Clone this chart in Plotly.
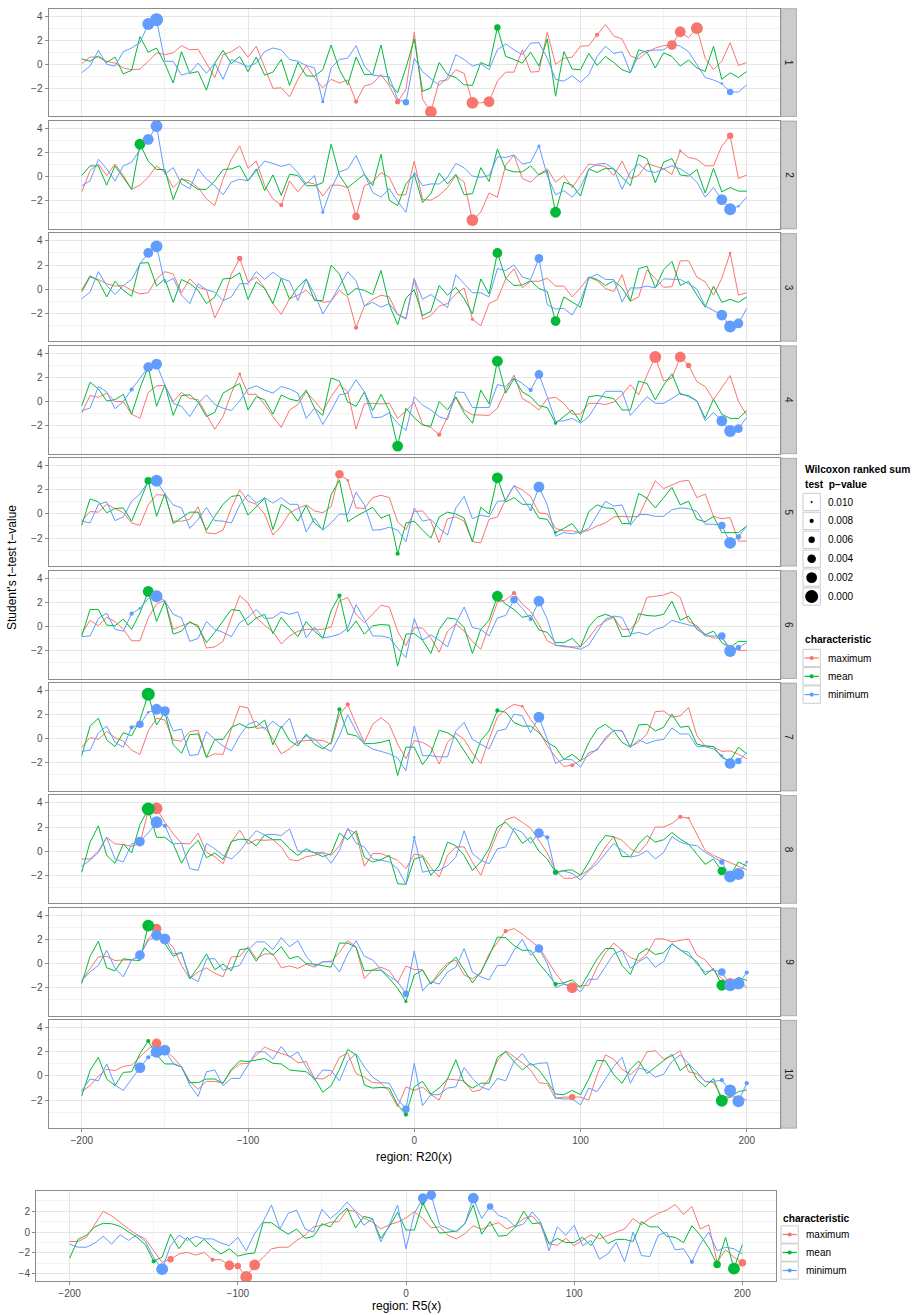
import plotly.graph_objects as go

x_region = list(range(-200, 201, 5))

# ---------------- R20 panels: maximum / mean / minimum t-values ----------------
max_1 = [0.05,0.6,0.6,0.25,0.1,-0.3,-0.45,-0.4,0.25,0.95, 0.8,0.95,1.55,1.2,1.25,0.1,-1.1,0.8,1.05,1.5, 0.6,1.5,-0.3,-2.0,-1.95,-2.7,-1.25,-0.1,-1.1,-1.95, -1.25,-1.55,-1.3,-3.1,-1.8,-1.6,-0.85,-1.8,-3.1,-2.1, 2.65,-2.9,-3.95,-1.4,-1.3,-0.45,-0.75,-3.2,-3.2,-3.1, -1.4,-0.65,-0.65,1.2,-0.65,-0.6,2.65,0.0,0.5,0.6, 1.5,1.55,2.45,3.3,2.35,2.1,0.7,0.45,1.0,1.35, 1.55,1.6,2.7,2.2,3.0,0.5,-0.45,0.25,1.8,-0.1,0.15]
mean_1 = [0.45,0.25,0.7,0.15,0.6,-0.8,-0.5,2.3,1.0,1.35, 0.05,-1.55,1.05,-0.75,-0.6,-2.15,0.1,1.15,0.05,0.65, -0.6,0.6,-0.9,-0.65,0.4,-1.75,0.15,-0.95,-1.0,-0.45, 1.6,-0.45,-1.7,0.6,-0.85,-0.85,1.6,-1.6,-2.35,-0.3, 2.1,-2.25,-1.95,0.15,-0.85,-1.1,-1.7,-1.75,0.15,-0.15, 3.05,0.65,0.4,0.1,1.0,-0.15,2.1,-2.65,1.05,-0.4, -0.45,0.9,-0.1,0.65,0.15,-0.45,-0.7,1.2,1.0,-0.3, 0.95,0.65,-0.15,0.35,-0.3,-0.6,1.5,-1.25,-0.7,-1.1,-0.6]
min_1 = [-0.7,-0.15,1.15,0.0,-0.15,1.05,1.35,1.8,3.35,3.7, 0.25,0.25,-0.9,-0.7,0.1,-0.75,0.1,-1.25,0.4,0.1, -0.2,0.1,1.05,1.35,1.2,0.4,0.25,-0.1,-0.3,-3.1, -0.3,0.4,0.5,1.55,-0.15,-0.9,-0.95,-1.05,-2.9,-3.15, 0.5,-0.6,-1.2,-1.75,-1.1,0.8,0.4,-0.15,0.05,-0.45, 1.2,1.7,1.2,0.8,1.75,1.8,0.5,-1.25,-1.4,-0.95, -1.5,-0.85,0.65,1.5,0.9,1.05,-0.7,0.8,1.15,1.15, 1.2,1.75,1.5,1.05,0.0,-1.1,-1.3,-1.6,-2.3,-2.3,-1.7]
sig_1 = [("minimum",-160,0.001),("minimum",-155,0.0),("minimum",-55,0.009),("minimum",-5,0.006),("minimum",185,0.0095),("minimum",190,0.006),
         ("maximum",-35,0.008),("maximum",-10,0.007),("maximum",10,0.001),("maximum",35,0.001),("maximum",45,0.002),("maximum",110,0.008),
         ("maximum",155,0.003),("maximum",160,0.002),("maximum",170,0.001),("mean",50,0.006)]

max_2 = [-1.25,0.5,1.05,0.1,1.05,0.1,-1.05,-0.7,-0.05,0.9, 0.35,-0.9,-0.2,-0.35,-0.9,-1.85,-2.4,-0.2,1.45,2.55, 0.7,1.3,-0.75,-1.85,-2.35,-0.35,-1.25,-0.45,-0.6,-1.6, -0.7,-0.7,-0.9,-3.3,-0.75,-0.45,0.35,-0.05,-1.5,-1.5, 1.3,-1.9,-1.95,-1.55,-0.9,0.1,-0.45,-3.6,-2.95,-1.35, -1.7,0.95,1.8,-0.15,-0.45,0.2,0.65,-0.45,0.1,-0.9, 0.1,1.05,0.95,0.85,0.1,1.3,-0.15,0.1,1.1,0.9, 0.65,0.2,2.15,1.6,1.45,0.9,0.9,2.55,3.4,-0.15,0.15]
mean_2 = [0.1,0.9,0.9,-0.7,0.9,-0.05,-1.05, 2.7,1.3,0.6,0.6,-1.9,-0.15,-0.6,-1.05,-1.05,-0.35,0.6,0.65,0.9,-0.35,0.65,-1.15,0.15,-1.55,0.2,0.1,-0.75,-0.75,-0.5, 2.7,0.1,-0.9,-0.35,0.2,-0.75,1.85,-1.95,-2.4,-0.6, 0.2,-2.15,-1.4,0.3,-0.6,0.2,-1.5,-1.4,0.75,-0.4, 2.3,0.6,0.4,0.4,0.9,0.15,0.5,-2.95,-0.45,-0.7, -1.6,0.65,0.35,0.7,0.65,-0.05,-0.75,1.8,1.5,-0.5, 1.2,1.5,0.15,0.05,0.6,-1.35,0.7,-1.25,-0.9,-1.2,-1.2]
min_2 = [-0.75,-0.35,1.45,0.65,-0.35,0.9,1.2,2.25,3.1,4.2, 0.2,0.75,-0.6,-1.0,0.65,-0.2,-0.75,-1.5,-0.45,-0.2, -0.35,0.5,1.3,1.1,0.85,1.05,0.35,-0.6,0.1,-2.95, -1.0,0.4,0.65,1.75,0.2,-1.3,-1.7,-1.0,-2.05,-2.95, 0.4,-0.75,-0.6,-0.6,-0.05,1.1,0.75,0.05,-0.05,0.1, 1.65,1.6,1.8,1.05,1.2,2.55,0.1,-1.5,-1.15,-1.7, -0.9,0.65,1.05,1.1,0.65,-1.05,0.4,1.05,0.5,0.35, 0.65,0.9,0.65,0.2,-0.45,-1.7,-0.9,-1.9,-2.7,-2.45,-1.7]
sig_2 = [("mean",-165,0.002),("minimum",-160,0.002),("minimum",-155,0.001),("minimum",-55,0.009),("minimum",75,0.009),("minimum",185,0.002),
         ("minimum",190,0.001),("minimum",195,0.0095),("maximum",-80,0.008),("maximum",-35,0.005),("maximum",35,0.001),("maximum",160,0.0095),
         ("maximum",190,0.006),("mean",85,0.002)]

max_3 = [-0.25,1.0,0.8,0.45,0.25,0.3,-0.1,-0.4,-0.3,0.85, 1.45,1.25,-0.3,0.85,0.15,-0.05,-2.4,-1.0,1.25,2.55, 0.6,1.0,0.1,-1.2,-2.1,-0.8,-0.5,-0.1,-0.8,-1.1, -1.0,-0.1,-0.65,-3.2,-1.4,-0.85,-0.5,-0.65,-2.1,-2.4, 0.9,-2.5,-2.2,-1.4,-1.2,-0.4,0.1,-2.5,-3.05,-1.2, -0.85,0.85,1.7,0.1,0.65,0.65,0.9,0.25,0.25,-0.65, 0.1,1.0,0.7,0.05,-0.2,1.2,-1.0,-0.65,1.6,0.85, 0.15,0.2,2.35,2.35,1.0,0.6,-0.5,0.9,3.0,-0.5,-0.3]
mean_3 = [-0.1,1.1,0.7,-0.65,0.65,-0.1,-0.6,2.15,2.2,0.25, 0.85,-1.1,0.8,0.45,-0.1,-1.2,-0.65,0.85,0.9,1.35, -0.85,0.6,0.05,-1.2,0.9,-0.85,0.15,0.85,-0.95,-0.95, 2.0,1.25,-0.5,0.05,-0.1,-0.45,1.55,-1.3,-2.95,-0.75, -0.05,-2.2,-1.85,0.3,-0.5,0.15,-0.8,-2.05,0.85,-0.4, 3.0,0.9,0.3,0.35,0.7,0.05,-0.2,-2.65,-0.65,-1.05, -1.5,1.0,0.8,0.3,0.7,0.1,-1.0,1.7,1.9,0.1, 1.6,2.3,0.3,0.65,-0.5,-1.5,0.25,-1.1,-0.85,-1.1,-0.65]
min_3 = [-0.8,-0.25,1.45,0.3,-0.45,0.3,0.8,2.1,3.0,3.55, 0.5,0.9,-0.5,-1.2,0.45,-0.05,-0.25,-0.95,-0.65,0.45, 0.45,1.45,0.8,1.4,0.9,0.65,-0.95,0.85,-0.4,-2.05, -0.95,0.3,1.45,0.7,-1.4,-1.1,-1.5,-1.2,-2.1,-2.5, 0.85,-0.85,-0.45,-1.0,-1.55,1.2,0.45,-0.3,-0.3,-0.65, 1.7,1.55,2.0,1.0,0.8,2.55,-1.3,-1.65,-1.6,-2.15, -0.95,0.9,1.25,0.8,0.8,-1.05,0.1,0.1,0.25,0.1, 0.85,0.85,0.8,0.45,0.0,-1.4,-1.75,-2.15,-3.1,-2.85,-1.6]
sig_3 = [("minimum",-160,0.003),("minimum",-155,0.001),("minimum",75,0.004),("minimum",185,0.002),("minimum",190,0.001),("minimum",195,0.003),
         ("maximum",-105,0.007),("maximum",-35,0.008),("maximum",35,0.009),("maximum",190,0.0095),("mean",50,0.003),("mean",85,0.003)]

max_4 = [-0.95,0.5,0.35,0.7,0.0,0.0,-1.05,-1.4,0.75,1.3, 1.35,0.0,0.75,0.25,0.15,-1.05,-2.3,-1.25,0.7,2.3, 0.6,0.6,-0.25,-1.25,-2.15,-0.7,-0.25,0.8,0.05,-0.8, 0.4,1.4,0.8,-2.3,-0.2,-0.15,-0.2,-0.15,-1.4,-0.8, -0.05,-1.9,-2.15,-2.75,-1.25,0.4,-0.7,-1.1,-1.1,-1.15, -0.55,0.95,2.2,0.25,-0.15,-0.7,0.25,0.35,-0.15,-1.05, -1.05,-0.15,-0.15,-0.25,-0.05,0.55,1.4,0.55,2.2,3.7, 1.7,1.95,3.7,3.0,1.65,1.25,0.15,1.1,2.15,0.0,-1.15]
mean_4 = [-0.35,1.6,1.05,0.05,0.15,0.6,-1.05,1.1,2.9,-0.4, 1.4,-1.15,0.5,0.55,-0.05,-1.25,-0.9,0.7,1.1,1.5, -0.7,0.4,0.15,-1.05,0.55,0.2,0.05,0.95,-0.55,-1.15, 1.95,1.7,-0.05,-0.4,0.8,-0.75,0.6,-0.75,-3.7,-0.55, -1.35,-1.95,-2.05,0.0,-0.7,0.35,-0.95,-1.8,0.95,-0.2, 3.35,0.7,1.9,0.8,0.4,-0.35,-0.5,-1.8,-1.25,-0.7, -1.7,0.4,0.5,0.35,0.25,-0.7,-0.7,1.7,1.5,0.15, 1.35,2.3,0.6,0.5,0.05,-1.4,0.2,-1.05,-1.4,-1.4,-0.75]
min_4 = [-0.75,-0.55,1.25,0.8,-0.6,0.0,1.0,1.9,2.85,3.1, 1.35,-0.15,-0.4,-1.25,-0.15,0.55,-0.25,-0.55,-0.75,0.05, 1.05,1.3,0.95,0.7,1.25,1.05,0.7,-1.4,-0.55,-1.9, -0.75,0.55,0.7,1.8,0.8,-1.35,-1.3,-0.95,-1.8,-2.4, 0.4,-0.3,-0.7,-1.25,-1.5,0.8,0.75,-0.5,-0.5,-0.5, 1.4,1.25,1.95,1.5,0.95,2.25,0.4,-1.65,-1.6,-1.4, -1.8,-1.25,-0.15,0.85,0.85,0.85,-1.15,-0.4,0.4,-0.15, -0.15,0.25,0.7,0.4,0.05,-1.6,-0.9,-1.6,-2.45,-2.25,-1.3]
sig_4 = [("minimum",-170,0.008),("minimum",-160,0.003),("minimum",-155,0.002),("minimum",70,0.008),("minimum",75,0.004),("minimum",185,0.002),
         ("minimum",190,0.001),("minimum",195,0.004),("maximum",-105,0.0095),("maximum",15,0.008),("maximum",145,0.001),("maximum",160,0.002),
         ("maximum",165,0.007),("mean",-10,0.002),("mean",50,0.002),("mean",85,0.009)]

max_5 = [-0.6,0.2,0.15,0.8,0.45,0.1,-0.75,-0.95,0.75,1.6, 1.55,-0.6,-0.6,-0.45,0.6,-1.55,-1.65,-1.35,0.5,2.0, 1.05,0.8,0.0,-1.75,-1.0,0.1,0.45,0.75,0.25,0.1, 0.6,3.3,2.8,0.5,0.45,1.35,1.55,1.35,-0.65,-1.3, 0.2,0.25,-0.6,-2.4,-0.4,-0.25,-0.6,-2.3,-2.4,-0.45, -0.25,1.2,2.35,2.0,1.45,0.1,0.0,-1.2,-1.4,-1.4, -1.55,-1.35,-1.0,-0.75,-0.25,-0.2,-0.25,-0.2,1.3,2.75, 2.1,2.4,2.7,2.8,1.35,1.65,-0.2,-0.4,-0.3,-2.25,-2.25]
mean_5 = [-0.95,1.25,1.0,0.1,0.45,0.5,-0.6,1.15,2.75,-0.2, 1.7,-0.8,-0.35,0.15,0.15,-1.35,-0.2,0.8,1.45,1.55, -0.1,0.6,1.3,-1.3,0.8,0.35,-0.6,0.7,-0.75,-1.3, 1.6,2.8,-0.65,-0.2,0.15,0.55,-0.35,-0.05,-3.3,-0.75, -0.6,-1.35,-2.0,-0.25,0.15,0.0,-0.35,-2.3,0.55,0.0, 3.0,1.0,1.35,0.8,0.8,-0.35,-0.45,-1.55,-1.2,-0.8, -1.7,0.2,0.75,0.5,0.45,-0.8,-0.8,1.7,1.3,0.5, 1.35,2.2,0.75,1.05,-0.45,-0.65,-0.2,-1.55,-1.55,-1.55,-1.0]
min_5 = [-0.6,-0.75,0.8,1.0,-0.55,-0.25,1.05,1.65,2.7,2.75, 1.65,0.75,0.5,-1.2,-0.45,0.55,-0.55,-0.6,-0.75,0.75, 1.6,0.9,1.35,0.9,1.35,0.8,0.8,-1.5,-0.35,-1.35, -0.75,0.0,-0.05,1.8,0.75,-1.35,-1.3,-1.1,-1.35,-2.3, 0.5,-0.6,-0.45,-1.2,-1.75,0.5,1.45,-0.4,-0.1,-0.25, 1.05,1.1,2.35,1.35,0.35,2.25,0.75,-1.85,-1.55,-1.65, -1.5,-1.2,-0.05,1.05,0.65,0.75,-0.95,-0.05,-0.05,-0.2, -0.2,0.35,0.5,0.45,0.2,-0.85,-0.85,-0.95,-2.4,-1.9,-1.0]
sig_5 = [("minimum",-155,0.001),("minimum",70,0.0095),("minimum",75,0.002),("minimum",185,0.005),("minimum",190,0.001),("minimum",195,0.007),
         ("maximum",-45,0.004),("maximum",-40,0.0095),("mean",-160,0.005),("mean",-10,0.008),("mean",50,0.002),("mean",85,0.0095)]

max_6 = [-0.6,0.5,0.05,0.75,0.4,-0.25,-1.2,-1.2,0.7,1.85, 2.15,-0.25,0.05,0.3,0.1,-1.8,-1.7,-1.25,0.7,2.55, 1.95,0.7,0.1,-0.45,-1.45,-0.8,-0.4,-0.25,-0.25,-0.25, -0.05,2.1,2.4,1.0,0.3,1.05,1.75,1.6,-0.4,-1.6, -0.1,-0.15,-0.95,-2.15,-0.4,0.2,-0.4,-1.25,-1.9,0.05, 2.0,2.2,2.75,1.85,1.25,0.15,-1.2,-1.55,-1.7,-1.7, -1.7,-0.95,-0.05,0.45,0.75,-0.25,-0.25,0.5,2.4,2.5, 2.6,2.85,2.4,0.4,0.05,-0.65,-0.95,-1.0,-1.7,-2.0,-2.0]
mean_6 = [-0.8,1.4,1.4,0.1,0.05,0.6,-0.25,1.1,2.9,0.4, 2.1,-0.65,-0.4,0.4,-0.05,-1.35,-0.5,0.4,1.4,1.3, 0.1,0.7,1.0,-0.6,0.75,-0.1,-0.85,0.4,-0.4,-1.0, 1.3,2.55,-0.45,0.45,-0.65,0.05,0.15,0.1,-3.3,-0.65, -0.6,-1.15,-2.25,-0.25,0.7,0.6,-0.1,-2.25,-0.25,0.5, 2.5,1.85,1.4,0.75,0.9,-0.3,-0.5,-1.35,-1.35,-1.0, -1.7,-0.05,0.75,1.0,0.75,-0.85,-0.8,1.05,0.9,0.85, 1.0,2.1,0.5,0.85,-0.25,-0.7,-0.4,-1.35,-1.75,-1.25,-1.25]
min_6 = [-0.85,-0.8,0.65,1.1,-0.25,-0.4,1.05,1.5,2.3,2.5, 2.1,1.0,0.7,-1.25,-1.0,0.4,-0.25,-0.5,-0.85,0.3, 0.75,1.4,0.65,0.7,1.2,1.0,1.2,-0.95,-0.05,-0.95, -0.85,-0.65,-0.15,1.8,0.6,-0.8,-0.8,-0.95,-1.8,-2.6, 0.65,-1.15,-0.7,-1.15,-1.7,0.2,1.6,-0.1,-0.25,-0.8, 0.7,0.9,2.2,1.5,0.6,2.1,0.6,-1.6,-1.6,-1.75, -1.9,-1.55,-0.5,0.6,0.85,0.75,-0.65,-0.5,-0.7,-0.25, -0.05,0.5,0.3,0.1,-0.05,-0.8,-0.8,-0.8,-2.05,-1.75,-1.35]
sig_6 = [("mean",-160,0.002),("mean",-45,0.008),("mean",50,0.002),("maximum",60,0.008),("minimum",-170,0.008),("minimum",-165,0.0095),
         ("minimum",-155,0.001),("minimum",60,0.005),("minimum",70,0.008),("minimum",75,0.002),("minimum",185,0.005),("minimum",190,0.001),
         ("minimum",195,0.007)]

max_7 = [-0.7,0.1,-0.05,0.6,0.1,-0.2,-0.95,-1.3,0.65,1.7, 1.55,-0.1,-0.2,0.6,0.7,-1.55,-1.25,-1.3,0.8,2.7, 2.55,0.85,0.95,-0.05,-1.25,-0.85,-0.2,-0.15,-0.1,-0.15, -0.45,2.0,2.85,1.2,-0.3,1.2,1.75,1.2,-0.45,-1.65, -0.15,-0.3,-0.7,-2.1,-0.3,0.45,-0.05,-1.2,-2.05,-0.05, 1.8,2.45,2.85,2.7,1.6,0.65,-0.6,-1.5,-2.3,-2.2, -1.8,-1.4,-0.85,-0.05,0.7,0.65,-0.65,-0.3,0.4,2.25, 2.3,1.8,1.9,2.6,0.25,-0.6,-0.65,-1.05,-1.0,-1.3,-1.65]
mean_7 = [-1.4,1.05,1.7,-0.1,-0.65,0.5,0.25,1.55,3.7,1.15, 2.2,-0.5,-1.2,0.35,0.4,-1.55,-0.05,-0.05,0.95,1.25, 0.9,1.0,1.55,-0.5,1.05,-0.15,-0.6,0.4,-0.45,-0.85, -0.3,2.45,0.4,0.25,-0.4,-0.4,-0.3,-0.1,-3.05,-0.7, -0.7,-2.15,-1.2,0.7,0.5,0.05,-1.0,-2.05,-0.15,0.65, 2.35,2.2,1.35,1.05,1.05,0.5,-0.3,-0.7,-1.7,-1.3, -1.85,-0.3,0.8,1.2,0.65,-0.3,-0.7,1.15,1.2,0.65, 0.95,2.05,0.95,1.05,-0.45,-0.6,-0.65,-1.55,-1.85,-0.7,-1.25]
min_7 = [-1.05,-0.95,0.5,1.05,-0.3,-0.7,0.95,1.2,2.2,2.45, 2.3,0.65,0.8,-1.4,-1.3,0.6,-0.05,-0.6,-1.0,0.25, 1.2,1.45,0.8,1.45,0.9,1.7,-0.45,0.25,-0.05,-0.7, -1.05,0.25,2.0,0.65,-0.45,-0.85,-1.05,-1.25,-1.6,-2.65, 1.05,-1.4,-1.4,-1.5,-1.5,0.65,1.35,-0.05,-0.45,-0.85, 0.65,0.8,2.05,1.9,0.5,1.8,-0.05,-2.05,-1.7,-1.75, -2.35,-1.15,-0.95,0.1,0.7,0.65,-0.7,-0.1,-0.4,-0.15, -0.05,0.9,0.4,0.4,-0.65,-0.65,-0.85,-1.4,-2.05,-1.85,-1.15]
sig_7 = [("mean",-160,0.0),("mean",-45,0.008),("mean",50,0.008),("maximum",-40,0.008),("maximum",65,0.0095),("maximum",95,0.008),
         ("minimum",-170,0.008),("minimum",-165,0.005),("minimum",-160,0.0095),("minimum",-155,0.002),("minimum",-150,0.003),("minimum",75,0.002),
         ("minimum",185,0.0095),("minimum",190,0.002),("minimum",195,0.006)]

max_8 = [-0.65,-0.65,0.0,1.15,0.6,0.55,0.4,0.65,3.35,3.55, 2.4,1.45,0.65,0.6,1.5,-0.1,-0.45,-1.05,0.75,1.75, 0.6,0.95,0.9,0.95,0.35,-0.7,-0.8,-0.45,-0.35,-0.1, -0.35,0.45,1.85,1.45,-1.25,-0.2,-0.2,-0.45,-0.75,-1.45, -0.25,-0.35,-1.35,-2.15,-0.35,0.35,0.35,-0.9,-2.0,-0.2, 1.5,2.6,2.85,2.4,1.9,0.9,-0.15,-1.6,-2.25,-2.25, -2.0,-1.55,-0.75,0.35,1.2,0.9,0.2,-0.15,0.65,2.0, 2.0,2.3,2.85,2.75,1.45,0.05,-0.35,-0.65,-0.9,-1.25,-1.55]
mean_8 = [-1.75,0.75,2.1,-0.35,-1.0,0.6,-0.15,2.2,3.5,1.15, 1.15,0.6,-1.0,0.2,0.9,-0.55,-0.15,-0.7,0.8,1.0, 0.95,0.45,1.35,0.95,0.95,0.2,-0.35,0.2,-0.15,-0.45, -0.2,1.5,0.95,1.7,-0.5,-0.9,-0.7,-0.35,-2.7,-2.75, -0.65,-0.45,-2.0,-1.2,0.75,0.45,-0.35,-1.6,-0.9,0.2, 2.0,2.4,1.7,0.65,1.15,0.0,-0.65,-1.75,-1.6,-1.55, -2.0,-0.9,0.4,1.3,1.2,-0.45,-0.45,0.6,1.3,0.75, 0.95,1.55,1.0,0.6,-0.25,-1.1,-0.65,-1.65,-2.0,-0.9,-1.25]
min_8 = [-1.25,-0.75,-0.1,1.15,-0.65,-0.9,0.6,0.8,1.5,2.4, 2.1,0.6,0.65,-1.45,-1.6,0.65,0.2,-0.35,-0.65,0.0, 0.9,1.7,1.35,1.4,1.3,1.85,0.0,0.0,-0.1,-0.15, -1.0,0.05,1.9,0.65,0.35,-0.65,-0.75,-0.9,-1.45,-2.75, 1.15,-1.75,-1.6,-1.6,-1.2,-0.5,1.7,-0.2,-0.75,-1.05, 0.2,0.35,1.9,1.55,0.65,1.5,1.15,-1.8,-1.65,-1.85, -2.4,-1.6,-1.05,-0.2,0.65,0.05,-0.5,-0.35,0.05,-0.65, -0.1,1.2,0.75,0.55,0.45,-0.1,-0.5,-0.9,-2.1,-1.9,-0.9]
sig_8 = [("mean",-160,0.0),("mean",85,0.007),("mean",185,0.004),("maximum",-155,0.001),("maximum",160,0.008),("maximum",165,0.0095),
         ("minimum",-165,0.003),("minimum",-155,0.001),("minimum",-150,0.008),("minimum",0,0.0095),("minimum",75,0.003),("minimum",80,0.008),
         ("minimum",185,0.007),("minimum",190,0.001),("minimum",195,0.001),("minimum",200,0.0095)]

max_9 = [-1.4,-0.4,0.55,0.6,0.25,0.3,0.3,0.7,2.05,2.9, 2.05,1.35,-0.15,-1.25,-0.7,-0.35,-0.8,-1.1,0.55,0.6, 1.4,0.4,0.8,0.8,-0.35,-0.2,-0.4,-0.05,-0.3,0.15, 0.15,0.95,1.9,1.4,-1.25,-0.5,-0.3,-0.6,-1.6,-0.2, -0.5,-0.5,-1.7,-0.7,0.05,0.3,-0.95,-1.25,-0.8,0.8, 1.8,2.7,2.9,2.45,1.9,1.35,0.3,-0.8,-1.7,-2.0, -1.85,-1.8,-0.3,0.9,1.7,1.1,0.5,0.25,0.8,2.05, 2.05,1.8,1.9,2.05,0.7,0.3,-0.55,-1.25,-1.65,-1.15,-2.05]
mean_9 = [-1.65,0.6,1.85,-0.35,-0.6,0.4,0.3,0.25,3.15,2.6, 1.65,0.6,0.95,-1.25,-0.3,0.8,-0.5,-0.05,-0.6,1.15, 1.25,0.2,1.3,0.7,1.4,0.4,0.6,0.0,-0.05,-0.2, -0.3,1.7,1.7,1.35,-0.6,-0.55,-0.55,-1.25,-2.05,-3.15, -0.95,-0.55,-1.7,-0.95,-0.15,0.55,-0.55,-1.6,-0.7,0.6, 2.2,2.15,1.5,1.1,1.1,0.0,-0.8,-1.7,-1.6,-1.35, -2.0,-0.8,0.4,1.25,1.25,-0.15,-0.9,0.8,1.25,0.75, 0.9,1.65,1.15,0.7,0.15,-0.95,-0.4,-1.8,-2.0,-1.15,-1.4]
min_9 = [-1.4,-0.7,-0.15,1.1,-0.4,-1.1,0.3,0.7,1.9,2.35, 2.05,0.8,0.9,-1.1,-1.5,0.4,0.4,-0.55,-0.35,-0.15, 1.1,1.8,1.8,1.15,2.15,1.4,1.9,0.6,-0.2,0.15, 0.2,-0.7,0.8,1.9,0.6,0.3,-0.5,-1.05,-1.5,-2.5, 1.05,-2.25,-1.5,-1.7,-0.7,-0.3,1.25,-0.7,-1.1,-1.35, -0.15,-0.15,1.1,2.0,0.7,1.25,0.0,-2.0,-1.7,-1.85, -2.35,-1.3,-1.3,-0.3,0.8,1.1,-0.4,0.15,0.55,-0.3, 0.15,1.65,1.1,0.95,-0.05,-0.7,-0.55,-0.7,-1.8,-1.65,-0.75]
sig_9 = [("mean",-160,0.001),("mean",-5,0.009),("mean",85,0.008),("mean",185,0.002),("maximum",-155,0.003),("maximum",55,0.008),
         ("maximum",95,0.002),("maximum",190,0.002),("minimum",-165,0.003),("minimum",-155,0.002),("minimum",-150,0.002),("minimum",-5,0.006),
         ("minimum",75,0.004),("minimum",185,0.005),("minimum",190,0.001),("minimum",195,0.001),("minimum",200,0.008)]

max_10 = [-1.3,-0.8,0.0,0.55,0.45,0.8,0.9,1.55,2.25,2.7, 2.15,1.55,0.75,-0.45,-1.1,-0.45,-0.45,-0.6,0.45,1.0, 1.05,1.75,2.4,2.1,1.85,1.65,1.1,1.2,-0.2,-0.25, 0.15,1.55,1.9,0.2,-0.1,-0.55,-0.6,-1.3,-2.55,-0.9, -1.2,-0.9,-1.55,-2.0,-0.25,-0.35,-0.4,-1.3,-1.15,-0.25, 1.25,2.1,1.6,1.1,0.5,-0.55,-0.65,-1.85,-1.75,-1.75, -1.75,-2.0,0.1,1.75,1.4,0.55,0.1,0.75,2.0,2.1, 1.4,1.65,2.1,0.35,0.2,-0.45,-0.55,-1.7,-1.75,-1.75,-2.0]
mean_10 = [-1.65,0.45,1.55,-0.25,-0.8,0.3,0.35,1.85,2.9,1.75, 1.0,1.0,0.75,-0.55,-0.55,-0.25,-0.25,-0.6,0.55,1.25, 1.2,1.35,1.45,1.05,1.0,0.5,0.45,0.35,-0.2,-1.35, -0.8,0.55,2.2,1.75,-0.75,-1.0,-0.95,-1.0,-2.4,-3.2, -0.9,-0.45,-1.5,-1.0,-0.25,1.35,-0.55,-1.0,-0.6,-0.6, 1.55,2.0,1.2,0.5,1.05,0.5,-0.45,-1.5,-1.55,-1.2, -1.55,-0.25,1.3,1.25,0.1,-0.6,0.55,1.25,0.2,0.75, 1.3,1.8,0.45,1.0,-0.25,-0.9,-0.2,-2.05,-1.75,-1.3,-1.15]
min_10 = [-1.2,-0.25,-0.4,1.0,-0.75,-1.2,-0.25,0.7,1.55,2.0, 2.15,1.05,0.75,-0.75,-1.7,0.35,0.5,-0.8,-0.2,-0.2, 0.9,2.0,2.0,1.4,2.45,1.55,2.0,0.75,-0.35,0.5, 0.45,-0.4,1.25,1.85,0.75,-0.1,-0.55,-0.6,-1.9,-2.75, 1.05,-2.45,-1.55,-1.55,-1.0,-0.9,0.7,-0.2,-0.9,-1.15, -0.2,-0.4,1.2,1.85,0.9,1.05,1.1,-1.85,-1.9,-1.9, -2.4,-1.0,-1.3,-0.2,0.8,1.55,-0.6,0.65,0.5,-0.1, 0.15,1.2,1.75,1.05,0.35,-0.45,-0.45,-0.35,-1.2,-2.1,-0.6]
sig_10 = [("mean",-160,0.008),("mean",-5,0.008),("mean",185,0.001),("maximum",-155,0.003),("maximum",95,0.006),("minimum",-165,0.002),
          ("minimum",-160,0.008),("minimum",-155,0.001),("minimum",-150,0.002),("minimum",-5,0.005),("minimum",185,0.008),("minimum",190,0.001),
          ("minimum",195,0.001),("minimum",200,0.008)]

# ---------------- R5 panel ----------------
max_r5 = [-0.9,-0.9,-0.5,0.7,2.0,1.55,0.9,0.3,-0.25,-0.65, -1.8,-2.9,-2.6,-2.1,-1.95,-2.2,-1.95,-2.65,-2.65,-3.2, -3.25,-4.3,-3.15,-2.45,-1.6,-1.45,-1.45,-0.8,-0.3,0.5, 0.65,0.95,1.0,2.1,2.0,1.35,0.95,0.3,0.7,0.95, 1.35,1.95,1.3,0.4,0.5,-0.3,-0.65,-0.15,0.6,0.25, 0.65,0.9,0.3,0.65,1.3,1.55,0.65,-1.15,-1.25,-0.6, -1.3,-0.8,-0.25,-0.65,-0.3,0.0,0.3,1.3,0.7,1.35, 1.8,2.1,2.65,1.7,2.45,0.3,0.7,-2.9,-1.7,-2.4,-2.95]
mean_r5 = [-2.5,-0.7,-0.3,0.5,0.85,0.8,0.55,0.0,-0.5,-1.2, -2.8,-2.4,-0.2,-1.6,-0.5,-1.4,-0.7,-1.5,-2.1,-1.6, -2.3,-2.1,-2.0,0.9,0.9,0.3,-0.2,0.3,-0.6,-0.4, 0.8,0.5,1.6,2.3,0.4,1.5,1.3,-0.6,0.5,1.9, 0.2,0.2,2.8,1.2,-0.1,0.0,0.1,0.8,2.6,-0.2, 1.0,-0.4,-0.3,0.5,2.0,0.8,0.9,-1.1,-0.6,-1.0, -1.0,-0.5,-1.3,-0.1,-1.1,-0.7,-0.7,-0.9,1.0,0.5, 0.5,-0.4,-0.5,-1.0,0.6,-0.3,-1.5,-3.1,-0.5,-3.5,-1.2]
min_r5 = [-1.15,-1.45,-1.45,-1.05,-0.4,-1.15,-0.25,-0.8,-0.25,-0.9, -2.45,-3.55,-1.3,-0.3,-0.8,-0.4,-0.65,-0.65,-1.05,-1.3, -0.5,-1.8,-0.15,1.0,2.6,0.3,1.8,2.1,0.3,0.0, 2.2,1.3,1.95,2.9,1.95,0.65,1.3,-0.95,0.65,2.6, -1.6,1.8,3.25,3.55,0.7,0.3,0.0,0.8,3.25,1.3, 2.45,1.6,1.3,0.5,0.8,1.95,1.0,-1.8,0.5,-0.3, 0.65,-1.3,-0.8,-2.6,-2.1,-1.0,-2.85,0.0,-2.25,-2.35, -0.3,0.0,-1.7,-1.6,-2.85,-1.15,0.0,-1.8,-1.45,-1.6,-2.1]
sig_r5 = [("maximum",-140,0.006),("maximum",-115,0.008),("maximum",-105,0.003),("maximum",-100,0.006),("maximum",-95,0.001),("maximum",-90,0.002),
          ("maximum",185,0.007),("maximum",200,0.005),("mean",-150,0.008),("mean",10,0.008),("mean",185,0.005),("mean",195,0.001),
          ("minimum",-145,0.001),("minimum",10,0.003),("minimum",15,0.003),("minimum",40,0.002),("minimum",50,0.006),("minimum",170,0.008)]

series_names = ["maximum", "mean", "minimum"]
series_colors = ["#F8766D", "#00BA38", "#619CFF"]
panel_names = ["1", "2", "3", "4", "5", "6", "7", "8", "9", "10"]
x_tick_values = [-200, -100, 0, 100, 200]
x_tick_labels = ["\u2212200", "\u2212100", "0", "100", "200"]
x_minor_values = [-150, -50, 50, 150]
y_tick_values = [-2, 0, 2, 4]
y_tick_labels = ["\u22122", "0", "2", "4"]
y_minor_values = [-3, -1, 1, 3]
y_tick_values_r5 = [-4, -2, 0, 2]
y_tick_labels_r5 = ["\u22124", "\u22122", "0", "2"]
legend_p_values = [0.010, 0.008, 0.006, 0.004, 0.002, 0.000]
legend_p_labels = ["0.010", "0.008", "0.006", "0.004", "0.002", "0.000"]

panels = [
    (max_1, mean_1, min_1, sig_1), (max_2, mean_2, min_2, sig_2), (max_3, mean_3, min_3, sig_3),
    (max_4, mean_4, min_4, sig_4), (max_5, mean_5, min_5, sig_5), (max_6, mean_6, min_6, sig_6),
    (max_7, mean_7, min_7, sig_7), (max_8, mean_8, min_8, sig_8), (max_9, mean_9, min_9, sig_9),
    (max_10, mean_10, min_10, sig_10),
]

# ---------------- styling / geometry (pixels) ----------------
W, H = 916, 1315
FONT = "Liberation Sans, Arial, Helvetica, sans-serif"
GRID_MAJOR = "#E5E5E5"
GRID_MINOR = "#F3F3F3"
BORDER = "#8C8C8C"
TICK_TEXT = "#4D4D4D"


def fx(px):
    return px / W


def fy(py):
    return 1 - py / H


def point_size(p):
    return 2 + 11 * (0.01 - p) / 0.01


fig = go.Figure()
axes = {}
shapes = []
annotations = []


def text_at(x, y, text, size, xanchor="center", angle=0, color="#000000", bold=False):
    annotations.append(dict(x=fx(x), y=fy(y), xref="paper", yref="paper", xanchor=xanchor, yanchor="middle",
                            text=f"<b>{text}</b>" if bold else text, textangle=angle, showarrow=False,
                            font=dict(family=FONT, size=size, color=color)))


def add_panel(n, data, x_px, y_px, y_range, ytv, ytt, show_x):
    xr = "x" if n == 1 else f"x{n}"
    yr = "y" if n == 1 else f"y{n}"
    vals_by_name = dict(zip(series_names, data[:3]))
    for name, col in zip(series_names, series_colors):
        fig.add_trace(go.Scatter(x=x_region, y=vals_by_name[name], mode="lines",
                                 line=dict(color=col, width=1), xaxis=xr, yaxis=yr,
                                 showlegend=False, hoverinfo="skip"))
    sig = data[3]
    for name, col in zip(series_names, series_colors):
        pts = [s for s in sig if s[0] == name]
        if not pts:
            continue
        vals = vals_by_name[name]
        fig.add_trace(go.Scatter(
            x=[s[1] for s in pts],
            y=[vals[x_region.index(s[1])] for s in pts],
            mode="markers",
            marker=dict(color=col, size=[point_size(s[2]) for s in pts], line=dict(width=0), opacity=1),
            xaxis=xr, yaxis=yr, showlegend=False, hoverinfo="skip", cliponaxis=True))
    xkey = "xaxis" if n == 1 else f"xaxis{n}"
    ykey = "yaxis" if n == 1 else f"yaxis{n}"
    axes[xkey] = dict(
        domain=[fx(x_px[0]), fx(x_px[1])], anchor=yr, range=[-220, 220],
        tickvals=x_tick_values, ticktext=x_tick_labels, showticklabels=show_x,
        ticks="outside" if show_x else "", ticklen=3, tickwidth=1, tickcolor=BORDER,
        tickfont=dict(family=FONT, size=10, color=TICK_TEXT),
        showline=True, mirror=True, linecolor=BORDER, linewidth=1,
        showgrid=True, gridcolor=GRID_MAJOR, gridwidth=1, zeroline=False,
        minor=dict(tickvals=x_minor_values, showgrid=True, gridcolor=GRID_MINOR, gridwidth=1, ticks=""),
        fixedrange=True)
    axes[ykey] = dict(
        domain=[fy(y_px[1]), fy(y_px[0])], anchor=xr, range=y_range,
        tickvals=ytv, ticktext=ytt, ticks="outside", ticklen=3, tickwidth=1, tickcolor=BORDER,
        tickfont=dict(family=FONT, size=10, color=TICK_TEXT),
        showline=True, mirror=True, linecolor=BORDER, linewidth=1,
        showgrid=True, gridcolor=GRID_MAJOR, gridwidth=1, zeroline=False,
        minor=dict(tickvals=y_minor_values, showgrid=True, gridcolor=GRID_MINOR, gridwidth=1, ticks=""),
        fixedrange=True)


PX_PER_UNIT = 12.05
Y_TOP, Y_BOT = 4.62, -4.33
for k, data in enumerate(panels):
    zero = 64.3 + 112.41 * k
    top = zero - Y_TOP * PX_PER_UNIT
    bot = zero - Y_BOT * PX_PER_UNIT
    add_panel(k + 1, data, (48.5, 780.0), (top, bot), [Y_BOT, Y_TOP], y_tick_values, y_tick_labels, k == 9)
    # facet strip
    shapes.append(dict(type="rect", xref="paper", yref="paper", x0=fx(780.8), x1=fx(796.5),
                       y0=fy(bot), y1=fy(top), fillcolor="#CCCCCC", line=dict(color="#8C8C8C", width=0.6),
                       layer="above"))
    text_at(788.7, (top + bot) / 2, panel_names[k], 10, angle=90, color="#1A1A1A")

# R5 panel
add_panel(11, (max_r5, mean_r5, min_r5, sig_r5), (36.0, 776.0), (1191.0, 1281.0), [-4.69, 3.94],
          y_tick_values_r5, y_tick_labels_r5, True)

# axis titles
text_at(414.3, 1157, "region: R20(x)", 12)
text_at(406, 1306, "region: R5(x)", 12)
text_at(12, 568, "Student's t\u2212test t\u2212value", 12, angle=-90)


def key_box(x0, cy, w=17.3, h=17.3):
    shapes.append(dict(type="rect", xref="paper", yref="paper", x0=fx(x0), x1=fx(x0 + w),
                       y0=fy(cy + h / 2), y1=fy(cy - h / 2), fillcolor="#FFFFFF",
                       line=dict(color="#CCCCCC", width=1), layer="above"))


def key_dot(cx, cy, d, color):
    shapes.append(dict(type="circle", xref="paper", yref="paper", x0=fx(cx - d / 2), x1=fx(cx + d / 2),
                       y0=fy(cy + d / 2), y1=fy(cy - d / 2), fillcolor=color, line=dict(width=0), layer="above"))


# size legend
text_at(803, 470, "Wilcoxon ranked sum", 10.2, xanchor="left", bold=True)
text_at(803, 484.5, "test\u00a0 p\u2212value", 10.2, xanchor="left", bold=True)
for i, (p, lab) in enumerate(zip(legend_p_values, legend_p_labels)):
    cy = 502 + 18.9 * i
    key_box(803, cy)
    key_dot(811.65, cy, point_size(p), "#000000")
    text_at(826, cy, lab, 10, xanchor="left")


def colour_legend(x0, title_y, first_y, step):
    text_at(x0, title_y, "characteristic", 10.2, xanchor="left", bold=True)
    for i, (name, col) in enumerate(zip(series_names, series_colors)):
        cy = first_y + step * i
        key_box(x0, cy)
        shapes.append(dict(type="line", xref="paper", yref="paper", x0=fx(x0 + 1.5), x1=fx(x0 + 15.8),
                           y0=fy(cy), y1=fy(cy), line=dict(color=col, width=1.2), layer="above"))
        key_dot(x0 + 8.65, cy, 4.2, col)
        text_at(x0 + 23, cy, name, 10, xanchor="left")


colour_legend(803, 640, 658, 18.3)
colour_legend(781, 1218, 1234.5, 18)

fig.update_layout(
    width=W, height=H, margin=dict(l=0, r=0, t=0, b=0),
    paper_bgcolor="#FFFFFF", plot_bgcolor="rgba(0,0,0,0)",
    showlegend=False, shapes=shapes, annotations=annotations,
    font=dict(family=FONT, size=10, color="#000000"),
    **axes,
)

fig.write_html("out.html", config={"displayModeBar": False, "staticPlot": True})
